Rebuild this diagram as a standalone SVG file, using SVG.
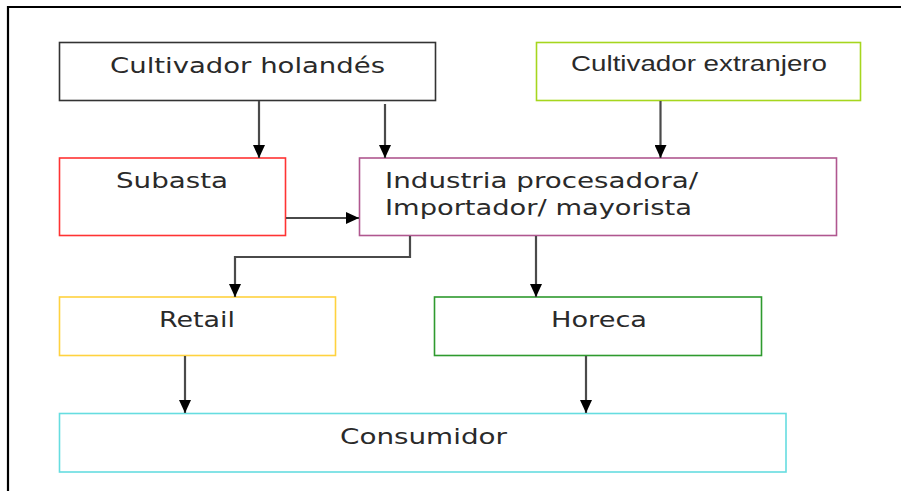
<svg xmlns="http://www.w3.org/2000/svg" width="901" height="491" viewBox="0 0 901 491">
<defs>
<marker id="arr" viewBox="0 0 13 12" refX="13" refY="6" markerWidth="13" markerHeight="12" orient="auto" markerUnits="userSpaceOnUse">
<path d="M0,0 L13,6 L0,12 z" fill="#000"/>
</marker>
</defs>
<style>
.box{fill:#fff;stroke-width:1.6}
.t{font-family:"DejaVu Sans",Verdana,sans-serif;font-size:22px;fill:#2a2a2a}
.ta{font-family:"Liberation Sans",Arial,sans-serif;font-size:22px;fill:#2a2a2a}
.c{fill:none;stroke:#4a4a4a;stroke-width:2.2;marker-end:url(#arr)}
</style>
<rect width="901" height="491" fill="#fff"/>
<g id="frame">
<path d="M8,491 L8,7 L901,7" fill="none" stroke="#000" stroke-width="2.2"/>
</g>
<g id="n-cultivador-holandes">
<rect class="box" x="59.5" y="42.5" width="376" height="58" stroke="#333"/>
<text class="t" x="110" y="73" textLength="275" lengthAdjust="spacingAndGlyphs">Cultivador holandés</text>
</g>
<g id="n-cultivador-extranjero">
<rect class="box" x="536.5" y="42.5" width="324" height="58" stroke="#a6d61e"/>
<text class="ta" x="571" y="71" textLength="256" lengthAdjust="spacingAndGlyphs">Cultivador extranjero</text>
</g>
<g id="n-subasta">
<rect class="box" x="59.5" y="158" width="226" height="77.5" stroke="#ff3333"/>
<text class="t" x="116" y="188" textLength="112" lengthAdjust="spacingAndGlyphs">Subasta</text>
</g>
<g id="n-industria">
<rect class="box" x="359.5" y="158" width="477" height="77.5" stroke="#b0578f"/>
<text class="t" x="385" y="188" textLength="313" lengthAdjust="spacingAndGlyphs">Industria procesadora/</text>
<text class="t" x="385" y="215" textLength="307" lengthAdjust="spacingAndGlyphs">Importador/ mayorista</text>
</g>
<g id="n-retail">
<rect class="box" x="59.5" y="297" width="276" height="58.5" stroke="#ffd23f"/>
<text class="t" x="159" y="327" textLength="76" lengthAdjust="spacingAndGlyphs">Retail</text>
</g>
<g id="n-horeca">
<rect class="box" x="434.5" y="297" width="327" height="58.5" stroke="#2e9a2e"/>
<text class="t" x="551" y="327" textLength="96" lengthAdjust="spacingAndGlyphs">Horeca</text>
</g>
<g id="n-consumidor">
<rect class="box" x="59.5" y="413.5" width="726.5" height="58.5" stroke="#66dde0"/>
<text class="t" x="340" y="444" textLength="167" lengthAdjust="spacingAndGlyphs">Consumidor</text>
</g>
<g id="connectors">
<path class="c" d="M259,101 L259,158"/>
<path class="c" d="M385,104 L385,158"/>
<path class="c" d="M660.5,101 L660.5,158"/>
<path class="c" d="M286,218 L359,218"/>
<path class="c" d="M410,236 L410,257 L235,257 L235,297"/>
<path class="c" d="M536,236 L536,297"/>
<path class="c" d="M185,356 L185,413"/>
<path class="c" d="M586,356 L586,413"/>
</g>
</svg>
